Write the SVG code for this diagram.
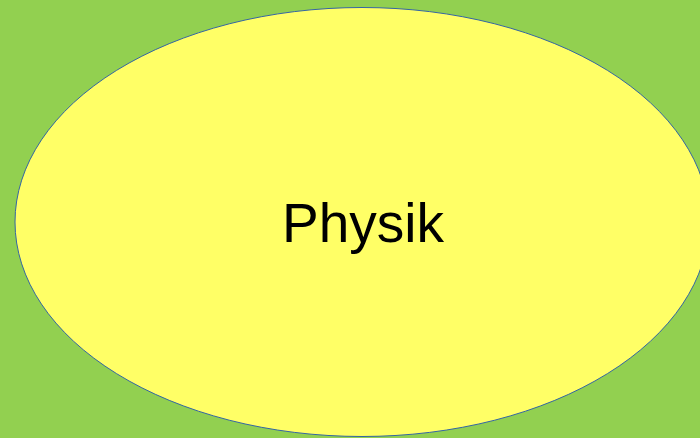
<svg xmlns="http://www.w3.org/2000/svg" width="700" height="438" viewBox="0 0 700 438">
<style>
.bg{fill:#92d050}
.node{fill:#ffff66;stroke:#3465a4;stroke-width:1}
.label{font-family:"Liberation Sans",Arial,sans-serif;font-size:55px;fill:#000;text-anchor:middle}
</style>
<rect class="bg" x="0" y="0" width="700" height="438"/>
<g id="connectors"></g>
<g id="physik">
<ellipse class="node" cx="362" cy="222" rx="347" ry="214.5"/>
<text class="label" x="363" y="242">Physik</text>
</g>
</svg>
